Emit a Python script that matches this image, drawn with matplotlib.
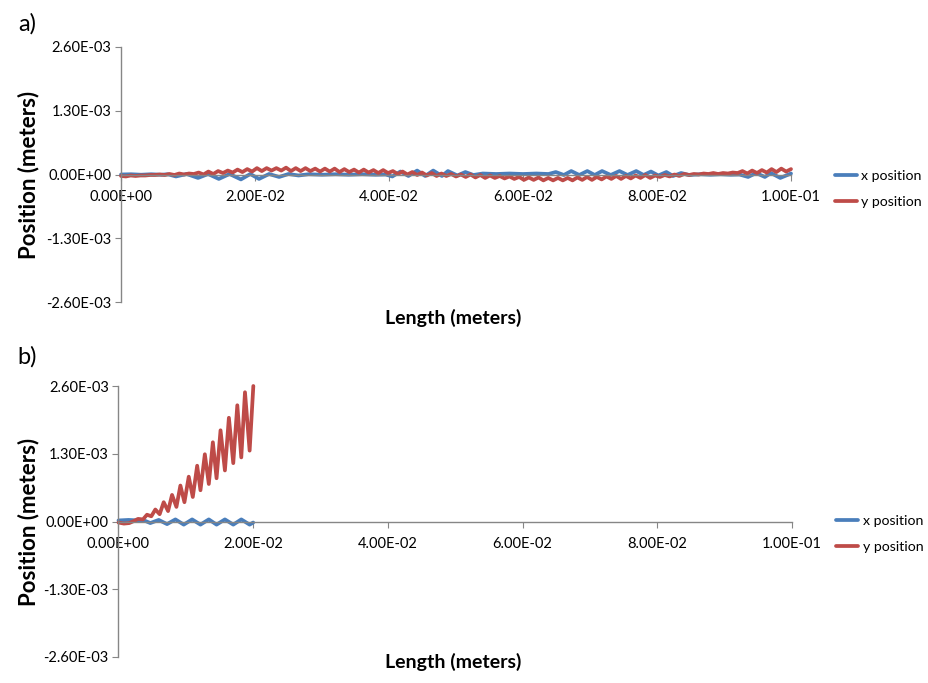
import numpy as np
import matplotlib.pyplot as plt
from matplotlib.ticker import FuncFormatter

plt.rcParams['font.family'] = ['Lato', 'DejaVu Sans']

# data: x in mm, y in units of 1e-5 m
x_ticks = [0.0, 0.02, 0.04, 0.06, 0.08, 0.1]
y_ticks = [-2.6e-3, -1.3e-3, 0.0, 1.3e-3, 2.6e-3]
series_names = ["x position", "y position"]

# panel a) y position, sampled every ~0.72 mm (peaks and troughs)
a_y_pos = [
    -3, -4, -2, -3, -2, -2, -1, -1, 0, -1,
    1, -1, 2, 0, 2, 1, 4, 0, 6, 1,
    7, 3, 8, 4, 10, 5, 11, 6, 13, 7,
    13, 8, 13, 8, 14, 7, 13, 7, 13, 7,
    12, 6, 12, 6, 12, 5, 11, 5, 10, 4,
    10, 4, 9, 3, 9, 3, 7, 1, 6, 0,
    5, -1, 4, -2, 3, -3, 2, -3, 1, -4,
    0, -5, 0, -6, -1, -7, -2, -7, -3, -8,
    -4, -9, -5, -11, -6, -11, -6, -12, -7, -12,
    -7, -12, -7, -12, -6, -11, -5, -11, -5, -10,
    -4, -9, -3, -9, -3, -8, -2, -7, -1, -7,
    -2, -5, -1, -4, 0, -3, 1, -1, 1, 0,
    2, 1, 3, 1, 3, 2, 4, 3, 7, 2,
    8, 3, 9, 4, 11, 5, 12, 6, 11,
]
a_y_pos_mm = np.linspace(0, 100, len(a_y_pos))

# panel a) x position
a_x_pos_mm = [
    0, 1.5, 3, 4.5, 6, 7,
    8.2, 9.8, 11.5, 13.0, 14.6, 16.2, 17.9, 19.3, 20.6, 22.1, 23.6, 25.0, 26.5,
    28, 30, 32, 34, 36, 38, 39.5,
    40.5, 41.7, 42.9, 44.2, 45.4, 46.6, 47.9, 48.8, 50.2, 51.4, 52.6,
    54, 56, 58, 60, 62, 63.8,
    64.9, 66.1, 67.2, 68.4, 69.6, 70.7, 71.8, 73.1, 74.4, 75.6, 76.9, 78.0,
    79.1, 80.2, 81.4, 82.4, 83.6, 84.8,
    86.5, 88, 89.5, 91, 92.3,
    93.6, 94.8, 96.1, 97.0, 98.4, 100,
]
a_x_pos = [
    0, 0.5, -0.5, 0.5, -0.5, 0.5,
    -4, 1, -7, 1, -9, 1, -10, 1, -9, 1, -5, 1, -2,
    0.5, -0.5, 0.5, -0.5, 0.5, -0.5, 0,
    -4, 6, -3, 8, -3, 8, -3, 7, -2, 5, -1,
    2, 1, 2, 1, 2, 1,
    5, -1, 7, -1, 7, -1, 7, -1, 7, -1, 7, -1,
    6, -2, 5, -3, 3, -1,
    0.5, -0.5, 0.5, -0.5, 0,
    -5, 3, -5, 3, -7, 2,
]

# panel b) y position
b_y_pos_mm = [
    0, 0.8, 1.6, 2.3, 2.9, 3.63, 4.23, 4.87, 5.47, 6.11, 6.71, 7.36, 7.95,
    8.60, 9.19, 9.79, 10.43, 11.03, 11.68, 12.17, 12.82, 13.41, 14.01,
    14.56, 15.15, 15.80, 16.39, 17.04, 17.64, 18.23, 18.78, 19.47, 20.02,
]
b_y_pos = [
    -2, -4, -3, 1, 5, 4, 13, 10, 23, 14, 37, 20, 51,
    28, 69, 37, 86, 47, 107, 60, 129, 72, 152,
    83, 175, 98, 199, 112, 223, 123, 248, 136, 260,
]

# panel b) x position
b_x_pos_mm = [0, 1.5, 3, 4.0, 4.72, 5.97, 7.21, 8.45, 9.69, 10.93, 12.17,
              13.41, 14.56, 15.80, 17.04, 18.23, 19.47, 20.0]
b_x_pos = [2, 3, 2, 1, -3, 3, -5, 4, -6, 4, -6, 4, -6, 4, -6, 4, -6, -2]

BLUE = "#4A7EBB"
RED = "#BE4B48"
GRAY = "#868686"


def sci(v, pos):
    return f"{v:.2E}"


def draw_panel(ax, xs, ys, legend_y):
    ax.set_xlim(0, 0.1)
    ax.set_ylim(-2.6e-3, 2.6e-3)
    lines = []
    for x, y, c in zip(xs, ys, [BLUE, RED]):
        ln, = ax.plot(np.array(x) * 1e-3, np.array(y) * 1e-5, color=c, lw=2.7,
                      solid_joinstyle="round", solid_capstyle="round", clip_on=False)
        lines.append(ln)
    ax.set_xticks(x_ticks)
    ax.set_yticks(y_ticks)
    ax.xaxis.set_major_formatter(FuncFormatter(sci))
    ax.yaxis.set_major_formatter(FuncFormatter(sci))
    for s in ["top", "right"]:
        ax.spines[s].set_visible(False)
    ax.spines["bottom"].set_position(("data", 0))
    for s in ["left", "bottom"]:
        ax.spines[s].set_color(GRAY)
        ax.spines[s].set_linewidth(1.0)
    ax.tick_params(direction="out", length=4, color=GRAY, labelsize=10.5)
    ax.tick_params(axis="x", pad=7)
    ax.tick_params(axis="y", pad=3)
    ax.legend(lines, series_names, loc="center left", bbox_to_anchor=(1.065, legend_y),
              frameon=False, handlelength=1.6, handletextpad=0.3, labelspacing=1.0,
              borderpad=0, borderaxespad=0, fontsize=10.2)


fig = plt.figure(figsize=(9.29, 6.83), dpi=100)
ax_a = fig.add_axes([121 / 929, 1 - 302 / 683, 670 / 929, 255 / 683])
ax_b = fig.add_axes([118.5 / 929, 1 - 657 / 683, 673.5 / 929, 271 / 683])

draw_panel(ax_a, [a_x_pos_mm, a_y_pos_mm], [a_x_pos, a_y_pos], 0.443)
draw_panel(ax_b, [b_x_pos_mm, b_y_pos_mm], [b_x_pos, b_y_pos], 0.454)

fig.text(27 / 929, 1 - 24 / 683, "a)", fontsize=17, ha="center", va="center")
fig.text(27 / 929, 1 - 357 / 683, "b)", fontsize=17, ha="center", va="center")
for yc in [175, 522]:
    fig.text(29 / 929, 1 - yc / 683, "Position (meters)", rotation=90, fontsize=16,
             fontweight="bold", ha="center", va="center")
for yc in [318, 662]:
    fig.text(453 / 929, 1 - yc / 683, "Length (meters)", fontsize=14,
             fontweight="bold", ha="center", va="center")

fig.savefig("out.png", dpi=100)
